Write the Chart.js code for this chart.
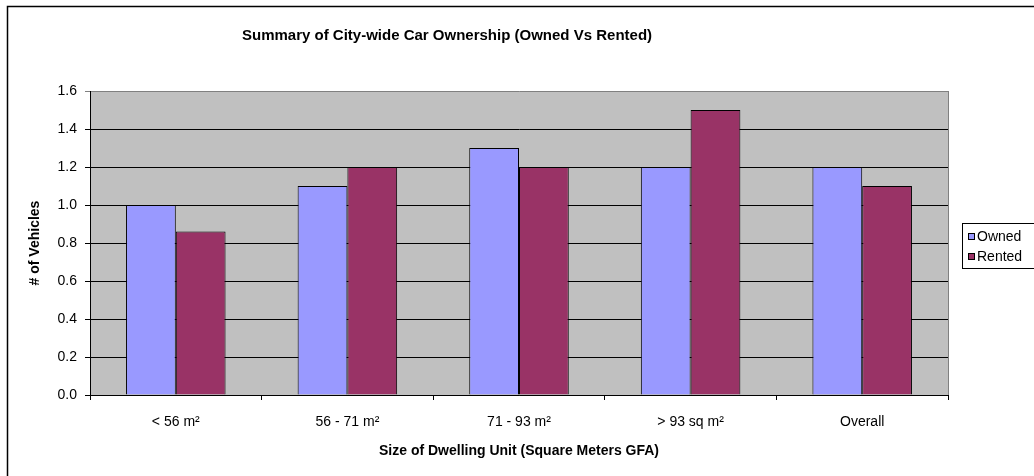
<!DOCTYPE html>
<html>
<head>
<meta charset="utf-8">
<script src="https://cdn.jsdelivr.net/npm/chart.js@4"></script>
<style>
  html, body { margin: 0; padding: 0; background: #fff; }
  #wrap { width: 1034px; height: 476px; }
</style>
</head>
<body>
<div id="wrap"><canvas id="barChart" width="1034" height="476"></canvas></div>
<script>
// data
var categories = ['< 56 m²', '56 - 71 m²', '71 - 93 m²', '> 93 sq m²', 'Overall'];
var owned = [1.0, 1.1, 1.3, 1.2, 1.2];
var rented = [0.86, 1.2, 1.2, 1.5, 1.1];
var seriesNames = ['Owned', 'Rented'];
var seriesColors = ['#9999FF', '#993366'];

var FONT = "'Liberation Sans', Arial, sans-serif";
var TITLE_CENTER_X = 447; // the title sits left of centre in the original

// gray plot area, frame and the excel-like legend
var excelLook = {
    id: 'excelLook',
    afterLayout: function(chart) {
        // shift the title block so the text is centred where the original has it
        var t = chart.titleBlock;
        if (t) {
            var shift = TITLE_CENTER_X - (t.left + t.right) / 2;
            t.left += shift;
            t.right += shift;
        }
    },
    beforeDraw: function(chart) {
        var ctx = chart.ctx, a = chart.chartArea;
        ctx.save();
        ctx.fillStyle = '#fff';
        ctx.fillRect(0, 0, chart.width, chart.height);
        ctx.fillStyle = '#C0C0C0';
        ctx.fillRect(a.left, a.top, a.right - a.left, a.bottom - a.top);
        // outer chart frame (runs off the right and bottom edge)
        ctx.strokeStyle = '#000';
        ctx.lineWidth = 1.5;
        ctx.strokeRect(7.5, 6.5, chart.width + 20, chart.height + 20);
        ctx.restore();
    },
    afterDraw: function(chart) {
        var ctx = chart.ctx, a = chart.chartArea;
        ctx.save();
        // right border of plot area
        ctx.strokeStyle = '#808080';
        ctx.lineWidth = 1;
        ctx.beginPath();
        ctx.moveTo(Math.round(a.right) + 0.5, a.top);
        ctx.lineTo(Math.round(a.right) + 0.5, a.bottom);
        ctx.stroke();

        // legend
        var lx = 962, ly = 223, lw = 100, lh = 45;
        ctx.fillStyle = '#fff';
        ctx.fillRect(lx, ly, lw, lh);
        ctx.strokeStyle = '#000';
        ctx.strokeRect(lx + 0.5, ly + 0.5, lw, lh);
        ctx.font = '14px ' + FONT;
        ctx.textBaseline = 'middle';
        chart.data.datasets.forEach(function(ds, i) {
            var cy = ly + 13 + i * 20;
            ctx.fillStyle = ds.backgroundColor;
            ctx.fillRect(lx + 6, cy - 3, 7, 7);
            ctx.strokeStyle = '#000';
            ctx.strokeRect(lx + 6.5, cy - 2.5, 6, 6);
            ctx.fillStyle = '#000';
            ctx.fillText(ds.label, lx + 15, cy + 1);
        });
        ctx.restore();
    }
};

var ctxB = document.getElementById('barChart').getContext('2d');
var myBarChart = new Chart(ctxB, {
    type: 'bar',
    data: {
        labels: categories,
        datasets: [{
            label: seriesNames[0],
            data: owned,
            backgroundColor: seriesColors[0],
            borderColor: '#000',
            borderWidth: 1
        }, {
            label: seriesNames[1],
            data: rented,
            backgroundColor: seriesColors[1],
            borderColor: '#000',
            borderWidth: 1
        }]
    },
    options: {
        responsive: false,
        animation: false,
        layout: {
            padding: { left: 8, right: 86, top: 0, bottom: 0 }
        },
        datasets: {
            bar: { categoryPercentage: 0.58, barPercentage: 1.0 }
        },
        plugins: {
            legend: { display: false },
            tooltip: { enabled: false },
            title: {
                display: true,
                fullSize: false,
                text: 'Summary of City-wide Car Ownership (Owned Vs Rented)',
                color: '#000',
                font: { family: FONT, size: 15, weight: 'bold' },
                padding: { top: 27, bottom: 46 }
            }
        },
        scales: {
            x: {
                grid: {
                    offset: true,
                    drawOnChartArea: false,
                    color: '#000',
                    tickLength: 5
                },
                border: { color: '#000' },
                ticks: {
                    color: '#000',
                    font: { family: FONT, size: 14 },
                    padding: 14,
                    maxRotation: 0
                },
                title: {
                    display: true,
                    text: 'Size of Dwelling Unit (Square Meters GFA)',
                    color: '#000',
                    font: { family: FONT, size: 14, weight: 'bold' },
                    padding: { top: 0, bottom: 16 }
                },
                afterFit: function(scale) { scale.height = 81; }
            },
            y: {
                min: 0,
                max: 1.6,
                grid: {
                    color: function(c) { return c.tick && c.tick.value >= 1.6 ? '#808080' : '#000'; },
                    tickLength: 5
                },
                border: { color: '#000' },
                ticks: {
                    stepSize: 0.2,
                    color: '#000',
                    font: { family: FONT, size: 14 },
                    padding: 8,
                    callback: function(v) { return v.toFixed(1); }
                },
                title: {
                    display: true,
                    text: '# of Vehicles',
                    color: '#000',
                    font: { family: FONT, size: 14, weight: 'bold' },
                    padding: { top: 19, bottom: 0 }
                },
                afterFit: function(scale) { scale.width = 82; }
            }
        }
    },
    plugins: [excelLook]
});
</script>
</body>
</html>
